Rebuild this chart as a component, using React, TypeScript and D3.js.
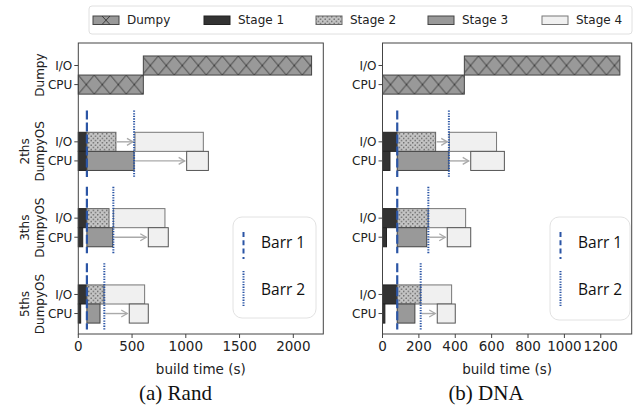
import React from "react";
import * as d3 from "d3";

// ---------- data ----------
const groupLabels = ["Dumpy", "2ths\nDumpyOS", "3ths\nDumpyOS", "5ths\nDumpyOS"];
const rowLabels = ["I/O", "CPU"];
const legendLabels = ["Dumpy", "Stage 1", "Stage 2", "Stage 3", "Stage 4"];
const barrLabels = ["Barr 1", "Barr 2"];
const randTicks = [0, 500, 1000, 1500, 2000];
const dnaTicks = [0, 200, 400, 600, 800, 1000, 1200];

// Dumpy: [CPU end, I/O end] (CPU 0->a, I/O a->b)
const randDumpy = [605, 2170];
const dnaDumpy = [450, 1305];

// DumpyOS groups: 2ths, 3ths, 5ths
const randStage1IO = [80, 80, 80];
const randStage1CPU = [80, 41, 22];
const randStage2IO = [[80, 350], [80, 286], [80, 240]];
const randStage3CPU = [[80, 519], [80, 320], [80, 202]];
const randStage4IO = [[527, 1163], [326, 806], [240, 617]];
const randStage4CPU = [[1008, 1210], [651, 837], [474, 651]];
const randBarr1 = [80, 80, 80];
const randBarr2 = [519, 326, 242];
const randArrowIO = [[350, 527], null, null];
const randArrowCPU = [[519, 1008], [326, 651], [242, 474]];

const dnaStage1IO = [81, 81, 81];
const dnaStage1CPU = [41, 22, 13];
const dnaStage2IO = [[81, 292], [81, 252], [81, 210]];
const dnaStage3CPU = [[81, 365], [81, 243], [81, 178]];
const dnaStage4IO = [[367, 627], [252, 457], [210, 380]];
const dnaStage4CPU = [[485, 670], [356, 485], [301, 400]];
const dnaBarr1 = [81, 81, 81];
const dnaBarr2 = [365, 252, 210];
const dnaArrowIO = [[292, 367], null, null];
const dnaArrowCPU = [[365, 485], [252, 356], [210, 301]];

// ---------- styles ----------
const FONT = "DejaVu Sans";
const C_STAGE1 = "#333333";
const C_STAGE2 = "#c4c4c4";
const C_STAGE3 = "#999999";
const C_STAGE4 = "#f0f0f0";
const C_DUMPY = "#999999";
const C_BARR = "#2b55a5";
const C_ARROW = "#aaaaaa";

const yScale = d3.scaleLinear().domain([-0.295, 3.518]).range([43, 334]);
const BAR_H = 0.25;

type Panel = {
  id: string;
  x0: number;
  x1: number;
  xmax: number;
  ticks: number[];
  dumpy: number[];
  s1io: number[];
  s1cpu: number[];
  s2io: number[][];
  s3cpu: number[][];
  s4io: number[][];
  s4cpu: number[][];
  b1: number[];
  b2: number[];
  aio: (number[] | null)[];
  acpu: (number[] | null)[];
  groupText: boolean;
  legend: { x: number; y: number; w: number; h: number };
};

const panels: Panel[] = [
  {
    id: "rand", x0: 78.3, x1: 323.3, xmax: 2279, ticks: randTicks, dumpy: randDumpy,
    s1io: randStage1IO, s1cpu: randStage1CPU, s2io: randStage2IO, s3cpu: randStage3CPU,
    s4io: randStage4IO, s4cpu: randStage4CPU, b1: randBarr1, b2: randBarr2,
    aio: randArrowIO, acpu: randArrowCPU, groupText: true,
    legend: { x: 233, y: 217, w: 83, h: 101 },
  },
  {
    id: "dna", x0: 382.5, x1: 631.7, xmax: 1370, ticks: dnaTicks, dumpy: dnaDumpy,
    s1io: dnaStage1IO, s1cpu: dnaStage1CPU, s2io: dnaStage2IO, s3cpu: dnaStage3CPU,
    s4io: dnaStage4IO, s4cpu: dnaStage4CPU, b1: dnaBarr1, b2: dnaBarr2,
    aio: dnaArrowIO, acpu: dnaArrowCPU, groupText: false,
    legend: { x: 550, y: 217, w: 80, h: 103 },
  },
];

function Bar({ x, a, b, row, g, fill, stroke }: any) {
  const yc = yScale(g + row * BAR_H);
  const h = yScale(BAR_H) - yScale(0);
  return (
    <rect x={x(a)} y={yc - h / 2} width={Math.max(0, x(b) - x(a))} height={h}
      fill={fill} stroke={stroke} strokeWidth={1} />
  );
}

function PanelView({ p }: { p: Panel }) {
  const x = d3.scaleLinear().domain([0, p.xmax]).range([p.x0, p.x1]);
  const hatchId = `xh-${p.id}`;
  const h = yScale(BAR_H) - yScale(0);
  const dumpyTop = yScale(0) - h / 2;
  const items: JSX.Element[] = [];
  items.push(<Bar key="dc" x={x} a={0} b={p.dumpy[0]} row={1} g={0} fill={`url(#${hatchId})`} stroke="#444" />);
  items.push(<Bar key="di" x={x} a={p.dumpy[0]} b={p.dumpy[1]} row={0} g={0} fill={`url(#${hatchId})`} stroke="#444" />);
  [0, 1, 2].forEach((i) => {
    const g = i + 1;
    items.push(<Bar key={`s1i${i}`} x={x} a={0} b={p.s1io[i]} row={0} g={g} fill={C_STAGE1} stroke="#222" />);
    items.push(<Bar key={`s1c${i}`} x={x} a={0} b={p.s1cpu[i]} row={1} g={g} fill={C_STAGE1} stroke="#222" />);
    items.push(<Bar key={`s2i${i}`} x={x} a={p.s2io[i][0]} b={p.s2io[i][1]} row={0} g={g} fill="url(#dots)" stroke="#666" />);
    items.push(<Bar key={`s3c${i}`} x={x} a={p.s3cpu[i][0]} b={p.s3cpu[i][1]} row={1} g={g} fill={C_STAGE3} stroke="#444" />);
    items.push(<Bar key={`s4i${i}`} x={x} a={p.s4io[i][0]} b={p.s4io[i][1]} row={0} g={g} fill={C_STAGE4} stroke="#777" />);
    items.push(<Bar key={`s4c${i}`} x={x} a={p.s4cpu[i][0]} b={p.s4cpu[i][1]} row={1} g={g} fill={C_STAGE4} stroke="#555" />);
  });
  const arrows: JSX.Element[] = [];
  [0, 1, 2].forEach((i) => {
    const g = i + 1;
    [p.aio[i], p.acpu[i]].forEach((ar, row) => {
      if (!ar) return;
      const yc = yScale(g + row * BAR_H);
      arrows.push(
        <line key={`a${i}-${row}`} x1={x(ar[0]) + 1} x2={x(ar[1]) - 2} y1={yc} y2={yc}
          stroke={C_ARROW} strokeWidth={1.4} markerEnd="url(#arrowHead)" />
      );
    });
  });
  const barrs: JSX.Element[] = [];
  [0, 1, 2].forEach((i) => {
    const g = i + 1;
    const yt = yScale(g - 0.41);
    const yb = yScale(g + 0.46);
    barrs.push(<line key={`b1${i}`} x1={x(p.b1[i])} x2={x(p.b1[i])} y1={yt} y2={yb}
      stroke={C_BARR} strokeWidth={2.2} strokeDasharray="9 3" />);
    barrs.push(<line key={`b2${i}`} x1={x(p.b2[i])} x2={x(p.b2[i])} y1={yt} y2={yb}
      stroke={C_BARR} strokeWidth={2} strokeDasharray="1.3 1.3" />);
  });
  const L = p.legend;
  return (
    <g>
      <defs>
        <pattern id={hatchId} patternUnits="userSpaceOnUse" x={p.x0} y={dumpyTop} width={16} height={h}>
          <rect width={16} height={h} fill={C_DUMPY} />
          <line x1={0} y1={0} x2={16} y2={h} stroke="#333" strokeWidth={0.9} />
          <line x1={0} y1={h} x2={16} y2={0} stroke="#333" strokeWidth={0.9} />
        </pattern>
      </defs>
      {items}
      {arrows}
      {barrs}
      <rect x={p.x0} y={43} width={p.x1 - p.x0} height={291} fill="none" stroke="#444" strokeWidth={1} />
      {p.ticks.map((t) => (
        <g key={`xt${t}`}>
          <line x1={x(t)} x2={x(t)} y1={334} y2={338} stroke="#444" />
          <text x={x(t)} y={351} fontSize={13.5} textAnchor="middle" fontFamily={FONT} fill="#222">{t}</text>
        </g>
      ))}
      <text x={(p.x0 + p.x1) / 2} y={374} fontSize={13.5} textAnchor="middle" fontFamily={FONT} fill="#222">build time (s)</text>
      {groupLabels.map((gl, g) =>
        rowLabels.map((rl, row) => {
          const yc = yScale(g + row * BAR_H);
          return (
            <g key={`yt${g}-${row}`}>
              <line x1={p.x0 - 4} x2={p.x0} y1={yc} y2={yc} stroke="#444" />
              <text x={p.x0 - 6} y={yc} dy="0.36em" fontSize={12} textAnchor="end" fontFamily={FONT} fill="#222">{rl}</text>
            </g>
          );
        })
      )}
      {p.groupText && groupLabels.map((gl, g) => {
        const lines = gl.split("\n");
        const yc = yScale(g + BAR_H / 2);
        return lines.map((ln, k) => {
          const xc = 40 - (lines.length - 1 - k) * 15;
          return (
            <text key={`gl${g}-${k}`} transform={`translate(${xc},${yc}) rotate(-90)`} dy="0.36em"
              fontSize={12} textAnchor="middle" fontFamily={FONT} fill="#222">{ln}</text>
          );
        });
      })}
      <rect x={L.x} y={L.y} width={L.w} height={L.h} rx={9} fill="white" stroke="#e2e2e2" strokeWidth={1} />
      <line x1={L.x + 10.5} x2={L.x + 10.5} y1={L.y + 15} y2={L.y + 42} stroke={C_BARR} strokeWidth={2} strokeDasharray="5 3.3" />
      <line x1={L.x + 10.5} x2={L.x + 10.5} y1={L.y + 54} y2={L.y + 89} stroke={C_BARR} strokeWidth={2} strokeDasharray="1.3 1.3" />
      <text x={L.x + 28} y={L.y + 25} dy="0.36em" fontSize={15.5} fontFamily="Open Sans" fill="#111">{barrLabels[0]}</text>
      <text x={L.x + 28} y={L.y + 72} dy="0.36em" fontSize={15.5} fontFamily="Open Sans" fill="#111">{barrLabels[1]}</text>
    </g>
  );
}

function TopLegend() {
  const xs = [93, 204, 316, 428, 542];
  const fills = ["dumpy", C_STAGE1, "url(#dots)", C_STAGE3, C_STAGE4];
  const strokes = ["#444", "#222", "#666", "#444", "#777"];
  return (
    <g>
      <rect x={89} y={6} width={543} height={28} rx={3} fill="white" stroke="#e0e0e0" />
      {legendLabels.map((lab, i) => (
        <g key={lab}>
          {i === 0 ? (
            <g>
              <rect x={xs[i]} y={16} width={26} height={8.5} fill={C_DUMPY} stroke="#444" />
              <line x1={xs[i] + 9} y1={16} x2={xs[i] + 17} y2={24.5} stroke="#333" strokeWidth={0.9} />
              <line x1={xs[i] + 9} y1={24.5} x2={xs[i] + 17} y2={16} stroke="#333" strokeWidth={0.9} />
            </g>
          ) : (
            <rect x={xs[i]} y={16} width={26} height={8.5} fill={fills[i]} stroke={strokes[i]} />
          )}
          <text x={xs[i] + 34} y={20} dy="0.36em" fontSize={12} fontFamily={FONT} fill="#222">{lab}</text>
        </g>
      ))}
    </g>
  );
}

export default function App() {
  return (
    <svg width={639} height={406} style={{ position: "absolute", left: 0, top: 0, background: "white" }}>
      <defs>
        <pattern id="dots" patternUnits="userSpaceOnUse" width={4.5} height={4.5}>
          <rect width={4.5} height={4.5} fill={C_STAGE2} />
          <circle cx={1.1} cy={1.1} r={0.65} fill="#333" />
          <circle cx={3.35} cy={3.35} r={0.65} fill="#333" />
        </pattern>
        <marker id="arrowHead" markerUnits="userSpaceOnUse" markerWidth={9} markerHeight={9} refX={7} refY={4.5} orient="auto">
          <path d="M1,1 L7,4.5 L1,8" fill="none" stroke={C_ARROW} strokeWidth={1.3} />
        </marker>
      </defs>
      <rect width={639} height={406} fill="white" />
      <TopLegend />
      {panels.map((p) => <PanelView key={p.id} p={p} />)}
      <text x={175.5} y={400} fontSize={21} textAnchor="middle" fontFamily="Liberation Serif" fill="#111">(a) Rand</text>
      <text x={486} y={400} fontSize={21} textAnchor="middle" fontFamily="Liberation Serif" fill="#111">(b) DNA</text>
    </svg>
  );
}
